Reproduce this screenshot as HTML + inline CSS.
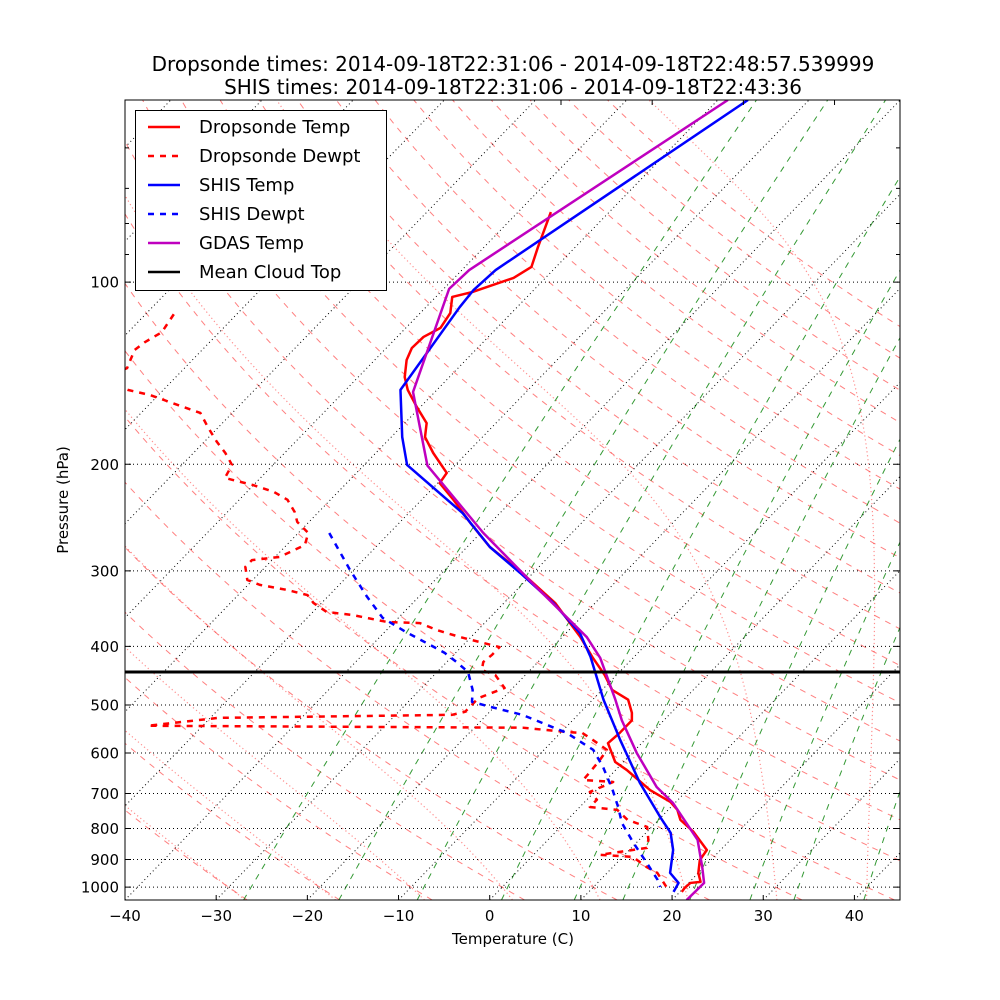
<!DOCTYPE html>
<html><head><meta charset="utf-8">
<style>
html,body{margin:0;padding:0;background:#fff;}
svg{display:block;font-family:"DejaVu Sans","Liberation Sans",sans-serif;}
</style></head>
<body>
<svg id="chart" width="1000" height="1000" viewBox="0 0 1000 1000" xmlns="http://www.w3.org/2000/svg">
<defs><clipPath id="plotclip"><rect x="125" y="100" width="775" height="800"/></clipPath></defs>
<rect x="0" y="0" width="1000" height="1000" fill="#fff"/>
<text x="513" y="71" font-size="20" text-anchor="middle">Dropsonde times: 2014-09-18T22:31:06 - 2014-09-18T22:48:57.539999</text>
<text x="513" y="94" font-size="20" text-anchor="middle">SHIS times: 2014-09-18T22:31:06 - 2014-09-18T22:43:36</text>
<g id="bg" clip-path="url(#plotclip)"></g>
<g id="grid" clip-path="url(#plotclip)"></g>
<g id="series" clip-path="url(#plotclip)"></g>
<g id="axes"></g>
<text x="513" y="944" font-size="15" text-anchor="middle">Temperature (C)</text>
<text x="68" y="500" font-size="15" text-anchor="middle" transform="rotate(-90 68 500)">Pressure (hPa)</text>
<g>
<rect x="135.5" y="110.5" width="251" height="180" fill="#fff" stroke="#000" stroke-width="1"/>
<line x1="148" y1="127" x2="180" y2="127" stroke="#f00" stroke-width="2.5"/>
<text x="199" y="133" font-size="18">Dropsonde Temp</text>
<line x1="148" y1="156" x2="180" y2="156" stroke="#f00" stroke-width="2.5" stroke-dasharray="6,6"/>
<text x="199" y="162" font-size="18">Dropsonde Dewpt</text>
<line x1="148" y1="185" x2="180" y2="185" stroke="#00f" stroke-width="2.5"/>
<text x="199" y="191" font-size="18">SHIS Temp</text>
<line x1="148" y1="214" x2="180" y2="214" stroke="#00f" stroke-width="2.5" stroke-dasharray="6,6"/>
<text x="199" y="220" font-size="18">SHIS Dewpt</text>
<line x1="148" y1="243" x2="180" y2="243" stroke="#bf00bf" stroke-width="2.5"/>
<text x="199" y="249" font-size="18">GDAS Temp</text>
<line x1="148" y1="272" x2="180" y2="272" stroke="#000" stroke-width="2.5"/>
<text x="199" y="278" font-size="18">Mean Cloud Top</text>
</g>
</svg>
<script>
// ---- data ----
const gdasP = [50,95.5,102.6,151.9,201,259.8,320,386,418,490,530,600,683,726,835,926,984,1050];
const gdasT = [-58.9,-69.2,-69.4,-62.4,-53.0,-39.7,-28.0,-17.3,-13.6,-7.5,-4.6,0.5,6.3,9.8,16.4,19.8,21.7,21.6];
const shisP = [50,95.5,103,110,150.7,180.3,200.5,240.8,274,302.5,339,380,416,490,571,672,766,813,868,947,984,1018];
const shisT = [-56.7,-66.3,-66.6,-66.3,-64.0,-58.8,-55.3,-44.1,-37.5,-31.4,-24.6,-18.5,-14.8,-8.8,-2.7,4.0,9.9,12.7,14.8,16.9,18.9,19.3];
const dropP = [76.6,87.5,94.4,98.4,103.8,105.8,112.5,119,123.2,128.5,134.5,143.5,150.7,160.8,171,180.3,191.6,206.7,214.8,229,250,274,302.5,339,386,418,446,472,490,515,530,556,578,621,640,691,723,745,774,810,868,902,947,980,984,1003,1018];
const dropT = [-66.4,-64.1,-62.7,-63.5,-66.5,-68.2,-66.7,-66.2,-67.1,-67.2,-66.5,-64.9,-63.2,-60.4,-57.6,-56.3,-53.7,-50.1,-49.8,-46.5,-42.2,-37.5,-31.2,-24.4,-18.0,-14.4,-11.3,-8.9,-6.1,-4.3,-3.5,-3.5,-3.7,-0.9,1.2,5.9,9.4,11.0,12.4,15.1,18.5,18.8,20.0,21.2,20.2,20.1,20.2];
const dropDP = [113,121,125.6,129.5,138.7,145,150.7,153.7,160.8,164.5,173.5,183.7,191.6,200.5,210.7,216.4,222,229,240,249,259.8,272,284.6,288,295.6,310.6,316.5,322.6,329,339,350.8,355,364.5,366,375.8,386,401,413,424.5,437.6,446,468.6,487,513,519,525,541,545,554,556,571,593,616,645,665,670,696,717,737,745,774,795,835,861,884,891,926,947,1010];
const dropDT = [-96.9,-96.3,-97.1,-97.4,-96.3,-98,-93.9,-90.9,-86,-83.5,-81.2,-78.6,-76.5,-74.5,-73.9,-70.1,-67.1,-64.7,-62.6,-61.3,-58.9,-58,-59.5,-62.2,-62.2,-60.6,-58.7,-55.2,-52.4,-50.9,-48.5,-45.3,-40.8,-37.1,-34.5,-31.2,-25.8,-25.8,-26,-25.3,-23.3,-20.9,-22.7,-22.7,-23.8,-49.1,-56,-14.7,-9.4,-7.6,-5.7,-3.1,-2.8,-2.6,-2.5,1.0,-0.5,1.1,1.1,4.4,6.6,9.5,11.0,11.7,7.3,11.1,13.7,15.5,18.5];
const shisDP = [259.8,299,331,359,379,398,410,426,441,472,494,504,519,556,593,633,691,737,783,845,912,973,999];
const shisDT = [-56.6,-50.4,-45.7,-41.7,-37.6,-33.6,-31.2,-28.7,-26.6,-24.2,-23,-20.3,-16.1,-9.3,-4.6,-1.7,1.8,4.2,6.3,9.7,13.3,16.3,17.3];
const cloudTopP = [441];
const xTicks = [-40,-30,-20,-10,0,10,20,30,40];
const yTicks = [100,200,300,400,500,600,700,800,900,1000];
const yMinorTicks = [60,70,80,90];
const dryTheta = [-30,-20,-10,0,10,20,30,40,50,60,70,80,90,100,110,120,130,140,150,160,170,180,190,200];
const moistT0 = [-30,-20,-10,0,10,20,30,40];
const mixW = [0.0004,0.001,0.002,0.004,0.007,0.01,0.016,0.024,0.032,0.05];

// ---- axis functions ----
const PTOP=50, PBOT=1050, L=125, R=900, T0=100, B=900, SK=0.969;
function yOf(p){return T0 + 800*Math.log(p/PTOP)/Math.log(PBOT/PTOP);}
function xOf(t,p){return L + (t+40)*(R-L)/85 + (B-yOf(p))*SK;}
const NS='http://www.w3.org/2000/svg';
function mk(tag,attrs,parent){const e=document.createElementNS(NS,tag);for(const k in attrs)e.setAttribute(k,attrs[k]);parent.appendChild(e);return e;}
function pathFrom(ps,ts){let d='';for(let i=0;i<ps.length;i++){d+=(i?'L':'M')+xOf(ts[i],ps[i]).toFixed(2)+','+yOf(ps[i]).toFixed(2);}return d;}
const bg=document.getElementById('bg'), grid=document.getElementById('grid'), ser=document.getElementById('series'), ax=document.getElementById('axes');

const plist=[];for(let p=1050;p>=50;p-=5)plist.push(p);

// dry adiabats
dryTheta.forEach(th=>{
  const ts=plist.map(p=>(th+273.15)*Math.pow(p/1000,0.2857)-273.15);
  const e=mk('path',{d:pathFrom(plist,ts),fill:'none',stroke:'#f00','stroke-opacity':0.5,'stroke-width':1,'stroke-dasharray':'6,6'},bg);
  
  
});
// moist adiabats
function es(tc){return 6.112*Math.exp(17.67*tc/(tc+243.5));}
function dTdp(p,T){const tc=T-273.15;const e=es(tc);const rs=0.622*e/Math.max(p-e,1);
  return (1/p)*(287.04*T+2.501e6*rs)/(1005.7+2.501e6*2.501e6*rs*0.622/(287.04*T*T));}
moistT0.forEach(t0=>{
  const ps=[],ts=[];
  let T=t0+273.15;
  for(let p=1000;p<1050;p+=1){T+=dTdp(p,T)*1;}
  let p=1050;ps.push(p);ts.push(T-273.15);
  while(p>50){const h=-1;const k1=dTdp(p,T),k2=dTdp(p+h/2,T+h/2*k1),k3=dTdp(p+h/2,T+h/2*k2),k4=dTdp(p+h,T+h*k3);
    T+=h/6*(k1+2*k2+2*k3+k4);p+=h; if(p%5===0){ps.push(p);ts.push(T-273.15);} }
  const e=mk('path',{d:pathFrom(ps,ts),fill:'none',stroke:'#f33','stroke-opacity':0.55,'stroke-width':1.2,'stroke-dasharray':'1.2,2.8'},bg);
  
  
});
// mixing ratio lines
mixW.forEach(w=>{
  const ts=plist.map(p=>{const e=w*p/(0.622+w);const l=Math.log(e/6.112);return 243.5*l/(17.67-l);});
  const e=mk('path',{d:pathFrom(plist,ts),fill:'none',stroke:'#008000','stroke-opacity':0.8,'stroke-width':1,'stroke-dasharray':'6,6'},bg);
  
  
});
// isotherms
for(let t=-130;t<=45;t+=10){
  const e=mk('line',{x1:xOf(t,PBOT),y1:B,x2:xOf(t,PTOP),y2:T0,stroke:'#000','stroke-width':1,'stroke-dasharray':'1,3'},grid);
  
  
}
// isobars
yTicks.forEach(p=>{
  const e=mk('line',{x1:L,y1:yOf(p),x2:R,y2:yOf(p),stroke:'#000','stroke-width':1,'stroke-dasharray':'1,3'},grid);
  
  
});

// series
function series(ps,ts,color,dash,name){
  const a={d:pathFrom(ps,ts),fill:'none',stroke:color,'stroke-width':2.5,'stroke-linejoin':'round'};
  if(dash)a['stroke-dasharray']='6,6';
  const e=mk('path',a,ser);
  
  
}
series(dropP,dropT,'#f00',false,'dropsonde-temp-line');
series(dropDP,dropDT,'#f00',true,'dropsonde-dewpt-line');
series(shisP,shisT,'#00f',false,'shis-temp-line');
series(shisDP,shisDT,'#00f',true,'shis-dewpt-line');
series(gdasP,gdasT,'#bf00bf',false,'gdas-temp-line');
cloudTopP.forEach(p=>{
  const e=mk('line',{x1:L,y1:yOf(p),x2:R,y2:yOf(p),stroke:'#000','stroke-width':3},ser);
  
  
});

// axes frame
const fr=mk('rect',{x:L,y:T0,width:R-L,height:B-T0,fill:'none',stroke:'#000','stroke-width':1},ax);


xTicks.forEach(t=>{
  const x=xOf(t,PBOT);
  const tk=mk('line',{x1:x,y1:B,x2:x,y2:B-5,stroke:'#000','stroke-width':1},ax);
  
  
  const tx=mk('text',{x:x,y:B+21,'font-size':15,'text-anchor':'middle'},ax);
  tx.textContent=(t<0?'\u2212':'')+Math.abs(t);
  
  
  const xt=x+436;
  if(xt<R){
    const tt=mk('line',{x1:xt,y1:T0,x2:xt,y2:T0+5,stroke:'#000','stroke-width':1},ax);
    
    
  }
});
yTicks.forEach(p=>{
  const y=yOf(p);
  const tk=mk('path',{d:`M${L},${y}h6M${R},${y}h-6`,stroke:'#000','stroke-width':1},ax);
  
  
  const tx=mk('text',{x:L-6,y:y+5.5,'font-size':15,'text-anchor':'end'},ax);
  tx.textContent=String(p);
  
  
});
yMinorTicks.forEach(p=>{
  const y=yOf(p);
  const tk=mk('path',{d:`M${L},${y}h4M${R},${y}h-4`,stroke:'#000','stroke-width':1},ax);
  
  
});
</script>
</body></html>
